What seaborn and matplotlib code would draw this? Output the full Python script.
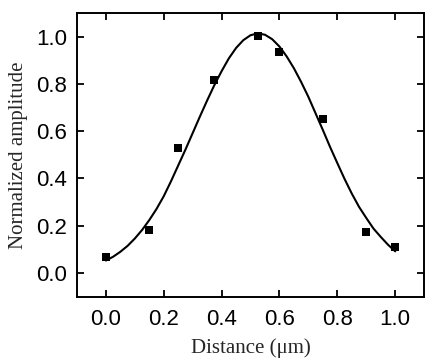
import numpy as np
import pandas as pd
import matplotlib
matplotlib.use('Agg')
import matplotlib.pyplot as plt
import seaborn as sns


# measured points
distance = [0.0, 0.15, 0.25, 0.375, 0.525, 0.60, 0.75, 0.90, 1.0]
amplitude = [0.068, 0.184, 0.528, 0.816, 1.003, 0.936, 0.651, 0.174, 0.112]

# fitted curve
fit_x = [0.0, 0.025, 0.05, 0.075, 0.10, 0.125, 0.15, 0.175, 0.20, 0.225,
         0.25, 0.275, 0.30, 0.325, 0.35, 0.375, 0.40, 0.425, 0.45, 0.475,
         0.50, 0.525, 0.55, 0.575, 0.60, 0.625, 0.65, 0.675, 0.70, 0.725,
         0.75, 0.775, 0.80, 0.825, 0.85, 0.875, 0.90, 0.925, 0.95, 0.975, 1.0]
fit_y = [0.053, 0.069, 0.090, 0.115, 0.146, 0.182, 0.224, 0.271, 0.325, 0.388,
         0.455, 0.522, 0.592, 0.662, 0.730, 0.795, 0.854, 0.908, 0.952, 0.985,
         1.006, 1.014, 1.008, 0.989, 0.958, 0.916, 0.866, 0.808, 0.745, 0.675,
         0.605, 0.533, 0.465, 0.398, 0.336, 0.280, 0.233, 0.188, 0.153, 0.120, 0.092]

x_ticks = [0.0, 0.2, 0.4, 0.6, 0.8, 1.0]
y_ticks = [0.0, 0.2, 0.4, 0.6, 0.8, 1.0]

sns.set_style('ticks')
plt.rcParams['font.family'] = ['Liberation Sans', 'DejaVu Sans']

points = pd.DataFrame({'x': distance, 'y': amplitude})
curve = pd.DataFrame({'x': fit_x, 'y': fit_y})

fig = plt.figure(figsize=(4.25, 3.59), dpi=100)
ax = fig.add_axes([0.181, 0.1735, 0.817, 0.7903])

sns.lineplot(data=curve, x='x', y='y', ax=ax, color='black', linewidth=1.5, sort=False)
sns.scatterplot(data=points, x='x', y='y', ax=ax, marker='s', s=40, color='black',
                edgecolor='black', linewidth=0, zorder=3)

ax.set_xlim(-0.1, 1.1)
ax.set_ylim(-0.1, 1.1)
ax.set_xticks(x_ticks)
ax.set_yticks(y_ticks)
ax.set_xticklabels([f'{v:.1f}' for v in x_ticks])
ax.set_yticklabels([f'{v:.1f}' for v in y_ticks])
ax.minorticks_off()

for side in ['top', 'right', 'bottom', 'left']:
    ax.spines[side].set_visible(True)
    ax.spines[side].set_linewidth(1.4)
    ax.spines[side].set_color('black')

ax.tick_params(which='major', direction='in', length=5, width=1.3,
               top=True, right=True, labelsize=16, colors='black')
ax.tick_params(axis='x', pad=9)
ax.tick_params(axis='y', pad=7)

serif = ['Liberation Serif', 'DejaVu Serif']
ax.set_xlabel('Distance (μm)', fontsize=15, family=serif, labelpad=6)
ax.set_ylabel('Normalized amplitude', fontsize=15, family=serif, labelpad=6)

fig.savefig('out.png', dpi=100)
